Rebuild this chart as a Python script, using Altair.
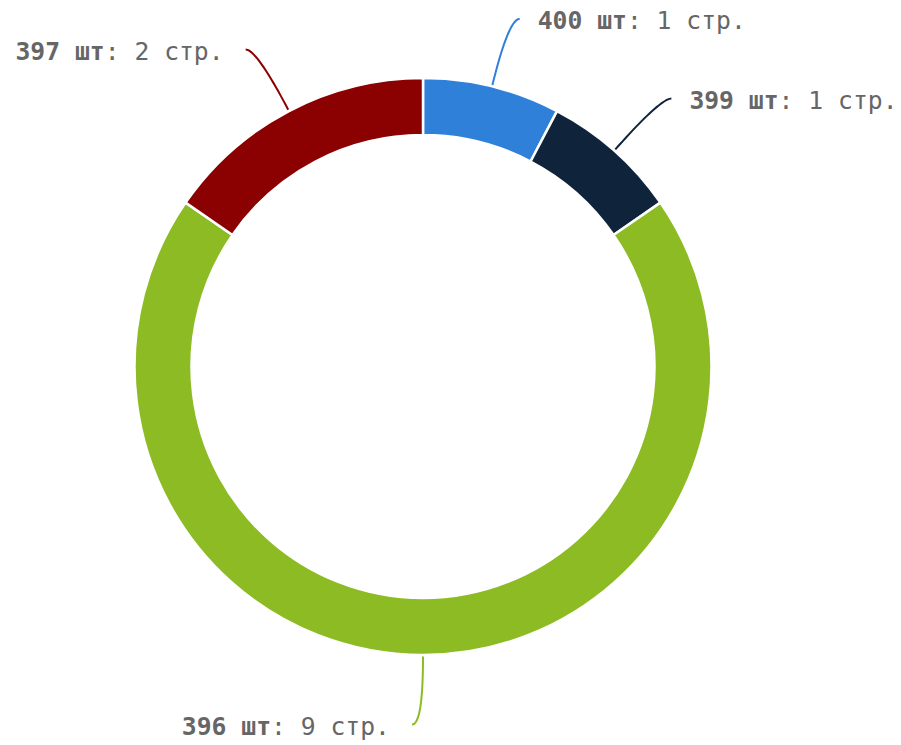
import altair as alt
import numpy as np
import pandas as pd

# data
items = ["400 шт", "399 шт", "396 шт", "397 шт"]
pages = [1, 1, 9, 2]
colors = ["#2f80d9", "#0f233a", "#8cbb23", "#8b0000"]

W, H = 901, 745
CX, CY = 423, 366.5
R_OUT, R_IN = 288.5, 231.5
R_START, R_ELBOW, HOOK = 290, 358, 11
FS = 24.7
CW = 0.602 * FS

total = sum(pages)
cum = np.cumsum([0] + pages)
mids = [(cum[i] + cum[i + 1]) / 2 / total * 2 * np.pi for i in range(len(pages))]

arc_df = pd.DataFrame({"item": items, "pages": pages, "ord": list(range(len(items)))})

line_rows, bold_rows, reg_rows = [], [], []
for i, (it, p, a) in enumerate(zip(items, pages, mids)):
    s, c = np.sin(a), np.cos(a)
    p0 = np.array([CX + R_START * s, CY - R_START * c])
    p1 = np.array([CX + R_ELBOW * s, CY - R_ELBOW * c])
    side = 1 if a < np.pi - 1e-6 else -1
    p2 = p1 + np.array([side * HOOK, 0])
    for k, t in enumerate(np.linspace(0, 1, 25)):
        pt = (1 - t) ** 2 * p0 + 2 * (1 - t) * t * p1 + t ** 2 * p2
        line_rows.append({"item": it, "k": k, "x": pt[0], "y": pt[1]})
    reg = f": {p} стр."
    ty = p2[1] + 3
    if side > 0:
        xb = p2[0] + 18
        bold_rows.append({"item": it, "txt": it, "x": xb, "y": ty})
        reg_rows.append({"item": it, "txt": reg, "x": xb + len(it) * CW, "y": ty})
    else:
        xe = p2[0] - 22
        reg_rows.append({"item": it, "txt": reg, "x": xe - len(reg) * CW, "y": ty})
        bold_rows.append({"item": it, "txt": it, "x": xe - (len(reg) + len(it)) * CW, "y": ty})

line_df = pd.DataFrame(line_rows)
bold_df = pd.DataFrame(bold_rows)
reg_df = pd.DataFrame(reg_rows)

xs = alt.Scale(domain=[0, W], range=[0, W])
ys = alt.Scale(domain=[0, H], range=[0, H])
cs = alt.Scale(domain=items, range=colors)

arc = alt.Chart(arc_df).mark_arc(
    outerRadius=R_OUT, innerRadius=R_IN, stroke="white", strokeWidth=2.5
).encode(
    theta=alt.Theta("pages:Q", stack=True),
    order=alt.Order("ord:Q"),
    color=alt.Color("item:N", scale=cs, legend=None),
    x=alt.value(CX),
    y=alt.value(CY),
)

lines = alt.Chart(line_df).mark_line(strokeWidth=2).encode(
    x=alt.X("x:Q", scale=xs, axis=None),
    y=alt.Y("y:Q", scale=ys, axis=None),
    color=alt.Color("item:N", scale=cs, legend=None),
    detail="item:N",
    order="k:Q",
)

bold = alt.Chart(bold_df).mark_text(
    font="DejaVu Sans Mono", fontSize=FS, fontWeight="bold", color="#666666",
    align="left", baseline="middle"
).encode(
    x=alt.X("x:Q", scale=xs, axis=None),
    y=alt.Y("y:Q", scale=ys, axis=None),
    text="txt:N",
)

regular = alt.Chart(reg_df).mark_text(
    font="DejaVu Sans Mono", fontSize=FS, color="#666666",
    align="left", baseline="middle"
).encode(
    x=alt.X("x:Q", scale=xs, axis=None),
    y=alt.Y("y:Q", scale=ys, axis=None),
    text="txt:N",
)

chart = alt.layer(arc, lines, bold, regular).properties(
    width=W, height=H, padding=0, autosize=alt.AutoSizeParams(type="none")
).configure_view(stroke=None)

chart.save("out.html", embed_options={"renderer": "svg", "actions": False})
